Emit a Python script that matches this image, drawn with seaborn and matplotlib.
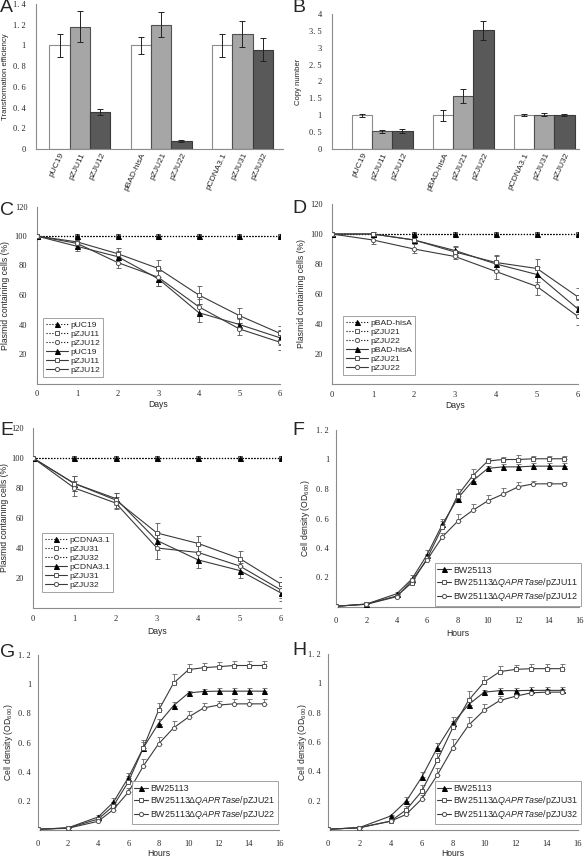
import matplotlib
matplotlib.use("Agg")
import matplotlib.pyplot as plt
import seaborn as sns
import numpy as np
import pandas as pd

sns.set_theme(style="white")
plt.rcParams['font.family'] = ['Liberation Sans', 'DejaVu Sans']
plt.rcParams['mathtext.fontset'] = 'custom'
plt.rcParams['mathtext.rm'] = 'Liberation Sans'
plt.rcParams['mathtext.it'] = 'Liberation Sans:italic'

# ---- data: bar panels (A, B)
plasmids = ["pUC19", "pZJU11", "pZJU12", "pBAD-hisA", "pZJU21", "pZJU22",
            "pCDNA3.1", "pZJU31", "pZJU32"]
plasmid_group = ["g1", "g1", "g1", "g2", "g2", "g2", "g3", "g3", "g3"]
plasmid_kind = ["vector", "QAPRTase", "sense", "vector", "QAPRTase", "sense",
                "vector", "QAPRTase", "sense"]
transform_eff = [1.0, 1.18, 0.36, 1.0, 1.2, 0.075, 1.0, 1.11, 0.96]
transform_err = [0.11, 0.15, 0.03, 0.08, 0.12, 0.01, 0.11, 0.13, 0.11]
copy_number = [1.0, 0.52, 0.53, 1.0, 1.57, 3.52, 1.0, 1.02, 1.02]
copy_err = [0.04, 0.04, 0.05, 0.16, 0.21, 0.28, 0.03, 0.04, 0.03]

a_yticks = [0, 0.2, 0.4, 0.6, 0.8, 1.0, 1.2, 1.4]
a_yticklabels = ["0", "0. 2", "0. 4", "0. 6", "0. 8", "1", "1. 2", "1. 4"]
b_yticks = [0, 0.5, 1, 1.5, 2, 2.5, 3, 3.5, 4]
b_yticklabels = ["0", "0. 5", "1", "1. 5", "2", "2. 5", "3", "3. 5", "4"]

# ---- data: plasmid stability (C, D, E)
days = [0, 1, 2, 3, 4, 5, 6]
selective = [100, 100, 100, 100, 100, 100, 100]
c_names = ["pUC19", "pZJU11", "pZJU12"]
c_vals = [[100, 93, 86, 71, 48, 40, 31],
          [100, 96, 88, 78, 60, 46, 34],
          [100, 95, 82, 72, 52, 37, 28]]
c_errs = [[0, 3, 4, 5, 6, 4, 5],
          [0, 2, 4, 6, 6, 5, 5],
          [0, 3, 4, 6, 5, 4, 5]]
d_names = ["pBAD-hisA", "pZJU21", "pZJU22"]
d_vals = [[100, 100, 96, 89, 80, 73, 50],
          [100, 100, 96, 88, 81, 77, 58],
          [100, 96, 90, 85, 75, 65, 45]]
d_errs = [[0, 1, 2, 3, 5, 5, 6],
          [0, 1, 2, 3, 5, 6, 6],
          [0, 3, 3, 2, 5, 6, 6]]
e_names = ["pCDNA3.1", "pZJU31", "pZJU32"]
e_vals = [[100, 83, 73, 45, 32, 25, 10],
          [100, 83, 72, 50, 43, 33, 16],
          [100, 80, 70, 40, 37, 28, 12]]
e_errs = [[0, 5, 4, 6, 5, 5, 5],
          [0, 5, 5, 7, 5, 5, 5],
          [0, 5, 4, 7, 5, 4, 5]]
stab_yticks = [20, 40, 60, 80, 100, 120]

# ---- data: growth curves (F, G, H)
hours = [0, 2, 4, 5, 6, 7, 8, 9, 10, 11, 12, 13, 14, 15]
f_names = ["BW25113", r"BW25113$\it{\Delta QAPRTase}$/pZJU11",
           r"BW25113$\it{\Delta QAPRTase}$/pZJU12"]
f_vals = [[0.005, 0.02, 0.09, 0.19, 0.355, 0.56, 0.735, 0.855, 0.94, 0.95, 0.95, 0.955, 0.955, 0.955],
          [0.005, 0.02, 0.075, 0.165, 0.33, 0.54, 0.755, 0.89, 0.99, 1.0, 1.0, 1.005, 1.005, 1.005],
          [0.005, 0.018, 0.07, 0.18, 0.32, 0.475, 0.58, 0.655, 0.72, 0.765, 0.815, 0.835, 0.835, 0.835]]
f_errs = [[0, 0.005, 0.01, 0.03, 0.03, 0.04, 0.04, 0.03, 0.015, 0.02, 0.02, 0.02, 0.02, 0.02],
          [0, 0.005, 0.01, 0.03, 0.03, 0.04, 0.045, 0.045, 0.02, 0.02, 0.03, 0.02, 0.02, 0.02],
          [0, 0.005, 0.01, 0.02, 0.03, 0.03, 0.05, 0.045, 0.04, 0.04, 0.03, 0.02, 0.01, 0.01]]
g_names = ["BW25113", r"BW25113$\it{\Delta QAPRTase}$/pZJU21",
           r"BW25113$\it{\Delta QAPRTase}$/pZJU22"]
g_vals = [[0.005, 0.015, 0.09, 0.19, 0.36, 0.565, 0.73, 0.853, 0.94, 0.95, 0.952, 0.952, 0.952, 0.952],
          [0.005, 0.014, 0.075, 0.165, 0.33, 0.565, 0.82, 1.007, 1.1, 1.113, 1.12, 1.128, 1.128, 1.128],
          [0.005, 0.012, 0.06, 0.14, 0.26, 0.44, 0.59, 0.70, 0.775, 0.837, 0.857, 0.865, 0.865, 0.865]]
g_errs = [[0, 0.005, 0.01, 0.03, 0.03, 0.04, 0.03, 0.025, 0.015, 0.02, 0.02, 0.02, 0.02, 0.02],
          [0, 0.005, 0.01, 0.03, 0.04, 0.05, 0.05, 0.06, 0.04, 0.035, 0.03, 0.03, 0.03, 0.03],
          [0, 0.005, 0.01, 0.02, 0.03, 0.05, 0.05, 0.045, 0.04, 0.035, 0.03, 0.03, 0.03, 0.03]]
h_names = ["BW25113", r"BW25113$\it{\Delta QAPRTase}$/pZJU31",
           r"BW25113$\it{\Delta QAPRTase}$/pZJU32"]
h_vals = [[0.005, 0.016, 0.095, 0.196, 0.36, 0.562, 0.73, 0.855, 0.94, 0.95, 0.95, 0.952, 0.952, 0.952],
          [0.005, 0.016, 0.06, 0.137, 0.264, 0.476, 0.70, 0.885, 1.009, 1.08, 1.095, 1.1, 1.1, 1.1],
          [0.005, 0.015, 0.06, 0.106, 0.212, 0.375, 0.562, 0.715, 0.817, 0.883, 0.912, 0.935, 0.94, 0.94]]
h_errs = [[0, 0.005, 0.01, 0.03, 0.035, 0.03, 0.04, 0.03, 0.015, 0.02, 0.02, 0.02, 0.02, 0.02],
          [0, 0.005, 0.01, 0.03, 0.04, 0.05, 0.04, 0.06, 0.04, 0.035, 0.03, 0.03, 0.03, 0.03],
          [0, 0.005, 0.01, 0.02, 0.03, 0.05, 0.06, 0.055, 0.045, 0.03, 0.02, 0.02, 0.02, 0.02]]
growth_yticks = [0.2, 0.4, 0.6, 0.8, 1.0, 1.2]
growth_yticklabels = ["0. 2", "0. 4", "0. 6", "0. 8", "1", "1. 2"]

W, H = 584, 859
SERIF = ['Liberation Serif', 'DejaVu Serif']
AXCOL = '#8c8c8c'
LINECOL = '#3a3a3a'
MARKERS = [dict(marker='^', markersize=3.6, markerfacecolor='black', markeredgecolor='black'),
           dict(marker='s', markersize=3.4, markerfacecolor='white', markeredgecolor='#555555', markeredgewidth=0.7),
           dict(marker='o', markersize=3.0, markerfacecolor='white', markeredgecolor='#555555', markeredgewidth=0.7)]


def px_axes(fig, left, right, top, bottom):
    return fig.add_axes([left / W, 1 - bottom / H, (right - left) / W, (bottom - top) / H])


def style_axes(ax, label_fs=6):
    sns.despine(ax=ax)
    for s in ['left', 'bottom']:
        ax.spines[s].set_color(AXCOL)
        ax.spines[s].set_linewidth(0.8)
    ax.tick_params(axis='both', direction='out', length=2.5, width=0.6, color=AXCOL,
                   labelsize=6, pad=3)
    for lab in ax.get_yticklabels():
        lab.set_family(SERIF)
    ax.yaxis.label.set_size(label_fs)
    ax.xaxis.label.set_size(label_fs)


def bar_panel(ax, vals, errs, yticks, yticklabels, ylabel, xlim, label_x):
    df = pd.DataFrame({"group": plasmid_group, "kind": plasmid_kind, "value": vals})
    pal = {"vector": "white", "QAPRTase": "#a6a6a6", "sense": "#595959"}
    sns.barplot(data=df, x="group", y="value", hue="kind", palette=pal,
                width=0.75, errorbar=None, legend=False, ax=ax, saturation=1)
    edge = {"vector": "#8c8c8c", "QAPRTase": "#505050", "sense": "#3a3a3a"}
    centers = {}
    for cont, kind in zip(ax.containers, ["vector", "QAPRTase", "sense"]):
        for bar, grp in zip(cont, ["g1", "g2", "g3"]):
            bar.set_edgecolor(edge[kind])
            bar.set_linewidth(0.8)
            centers[(grp, kind)] = bar.get_x() + bar.get_width() / 2
    xs = [centers[(g, k)] for g, k in zip(plasmid_group, plasmid_kind)]
    ax.errorbar(xs, vals, yerr=errs, fmt='none', ecolor='#222222', elinewidth=0.7,
                capsize=2, capthick=0.7)
    ax.set_xticks(xs)
    ax.set_xticklabels(plasmids, rotation=65, ha='right', rotation_mode='anchor', fontsize=5.5)
    ax.set_xlim(*xlim)
    ax.set_ylim(yticks[0], yticks[-1])
    ax.set_yticks(yticks)
    ax.set_yticklabels(yticklabels)
    ax.set_xlabel("")
    ax.set_ylabel(ylabel)
    style_axes(ax, label_fs=5.6)
    ax.tick_params(axis='x', length=0, pad=2)
    ax.tick_params(axis='y', pad=5)
    ax.yaxis.set_label_coords(label_x, 0.5)


def stability_panel(ax, names, vals, errs, ylabel_x, xlabel_y, legend_anchor):
    # selective controls (dotted, all 100 %), drawn so the black marker ends on top
    ctrl_lines = {}
    for name, mk in reversed(list(zip(names, MARKERS))):
        sns.lineplot(x=days, y=selective, ax=ax, color='black', linestyle=':',
                     linewidth=0.8, label=name, zorder=3, **mk)
        ctrl_lines[name] = ax.lines[-1]
    solid_lines = []
    for name, v, e, mk in zip(names, vals, errs, MARKERS):
        ax.errorbar(days, v, yerr=e, fmt='none', ecolor='#555555', elinewidth=0.6,
                    capsize=1.8, capthick=0.6, zorder=2)
        sns.lineplot(x=days, y=v, ax=ax, color=LINECOL, linewidth=0.8, label=name,
                     zorder=4, **mk)
        solid_lines.append(ax.lines[-1])
    ax.set_xlim(0, 6)
    ax.set_ylim(0, 120)
    ax.set_xticks(days)
    ax.set_yticks(stab_yticks)
    ax.set_xlabel("Days")
    ax.set_ylabel("Plasmid containing cells (%)")
    style_axes(ax, label_fs=6.2)
    for lab in ax.get_xticklabels():
        lab.set_family(SERIF)
    ax.tick_params(axis='y', pad=4)
    ax.tick_params(axis='x', pad=2.5)
    ax.yaxis.set_label_coords(ylabel_x, 0.5)
    ax.xaxis.set_label_coords(0.5, xlabel_y)
    handles = [ctrl_lines[n] for n in names] + solid_lines
    leg = ax.legend(handles, names + names, loc='lower left', bbox_to_anchor=legend_anchor,
                    borderaxespad=0, fontsize=6.1, frameon=True, fancybox=False,
                    labelspacing=0.12, handlelength=2.6, handletextpad=0.3, borderpad=0.35)
    leg.get_frame().set_edgecolor(AXCOL)
    leg.get_frame().set_linewidth(0.7)


def growth_panel(ax, names, vals, errs, ylabel_x, xlabel_y, legend_anchor):
    for name, v, e, mk in zip(names, vals, errs, MARKERS):
        ax.errorbar(hours, v, yerr=[np.zeros(len(e)), e], fmt='none', ecolor='#666666',
                    elinewidth=0.6, capsize=1.8, capthick=0.6, zorder=2)
        sns.lineplot(x=hours, y=v, ax=ax, color=LINECOL, linewidth=0.8, label=name,
                     zorder=4, **mk)
    ax.set_xlim(0, 16)
    ax.set_ylim(0, 1.2)
    ax.set_xticks(range(0, 17, 2))
    ax.set_yticks(growth_yticks)
    ax.set_yticklabels(growth_yticklabels)
    ax.set_xlabel("Hours")
    ax.set_ylabel(r"Cell density (OD$_{600}$)")
    style_axes(ax, label_fs=6.2)
    for lab in ax.get_xticklabels():
        lab.set_family(SERIF)
    ax.tick_params(axis='y', pad=2.5)
    ax.tick_params(axis='x', pad=5)
    ax.yaxis.set_label_coords(ylabel_x, 0.5)
    ax.xaxis.set_label_coords(0.5, xlabel_y)
    leg = ax.legend(loc='lower right', bbox_to_anchor=legend_anchor, borderaxespad=0,
                    fontsize=6.4, frameon=True, fancybox=False, labelspacing=0.15,
                    handlelength=1.5, handletextpad=0.3, borderpad=0.3)
    leg.get_frame().set_edgecolor(AXCOL)
    leg.get_frame().set_linewidth(0.7)


fig = plt.figure(figsize=(W / 100, H / 100), dpi=100)

axA = px_axes(fig, 36, 283, 4, 149)
bar_panel(axA, transform_eff, transform_err, a_yticks, a_yticklabels,
          "Transformation efficiency", (-0.54, 2.5), -0.11)
axB = px_axes(fig, 332, 579, 14, 149)
bar_panel(axB, copy_number, copy_err, b_yticks, b_yticklabels,
          "Copy number", (-0.62, 2.43), -0.12)

axC = px_axes(fig, 36.5, 280, 206.5, 383.5)
stability_panel(axC, c_names, c_vals, c_errs, -0.11, -0.095, (0.027, 0.037))
axD = px_axes(fig, 332, 578, 204, 384)
stability_panel(axD, d_names, d_vals, d_errs, -0.105, -0.095, (0.045, 0.05))
axE = px_axes(fig, 33, 281, 428, 608)
stability_panel(axE, e_names, e_vals, e_errs, -0.098, -0.105, (0.036, 0.089))

axF = px_axes(fig, 336, 579, 430, 607)
growth_panel(axF, f_names, f_vals, f_errs, -0.1, -0.125, (1.008, 0.006))
axG = px_axes(fig, 38, 279, 655, 830)
growth_panel(axG, g_names, g_vals, g_errs, -0.095, -0.11, (0.996, 0.034))
axH = px_axes(fig, 328, 578, 654, 830)
growth_panel(axH, h_names, h_vals, h_errs, -0.076, -0.11, (1.012, 0.034))

for letter, x, y in [("A", 0, -1), ("B", 292, -1), ("C", 0, 202), ("D", 292, 200),
                     ("E", 0, 422), ("F", 292, 422), ("G", 0, 644), ("H", 292, 642)]:
    fig.text(x / W, 1 - y / H, letter, fontsize=14, va='top', ha='left')

fig.savefig("out.png", dpi=100)
